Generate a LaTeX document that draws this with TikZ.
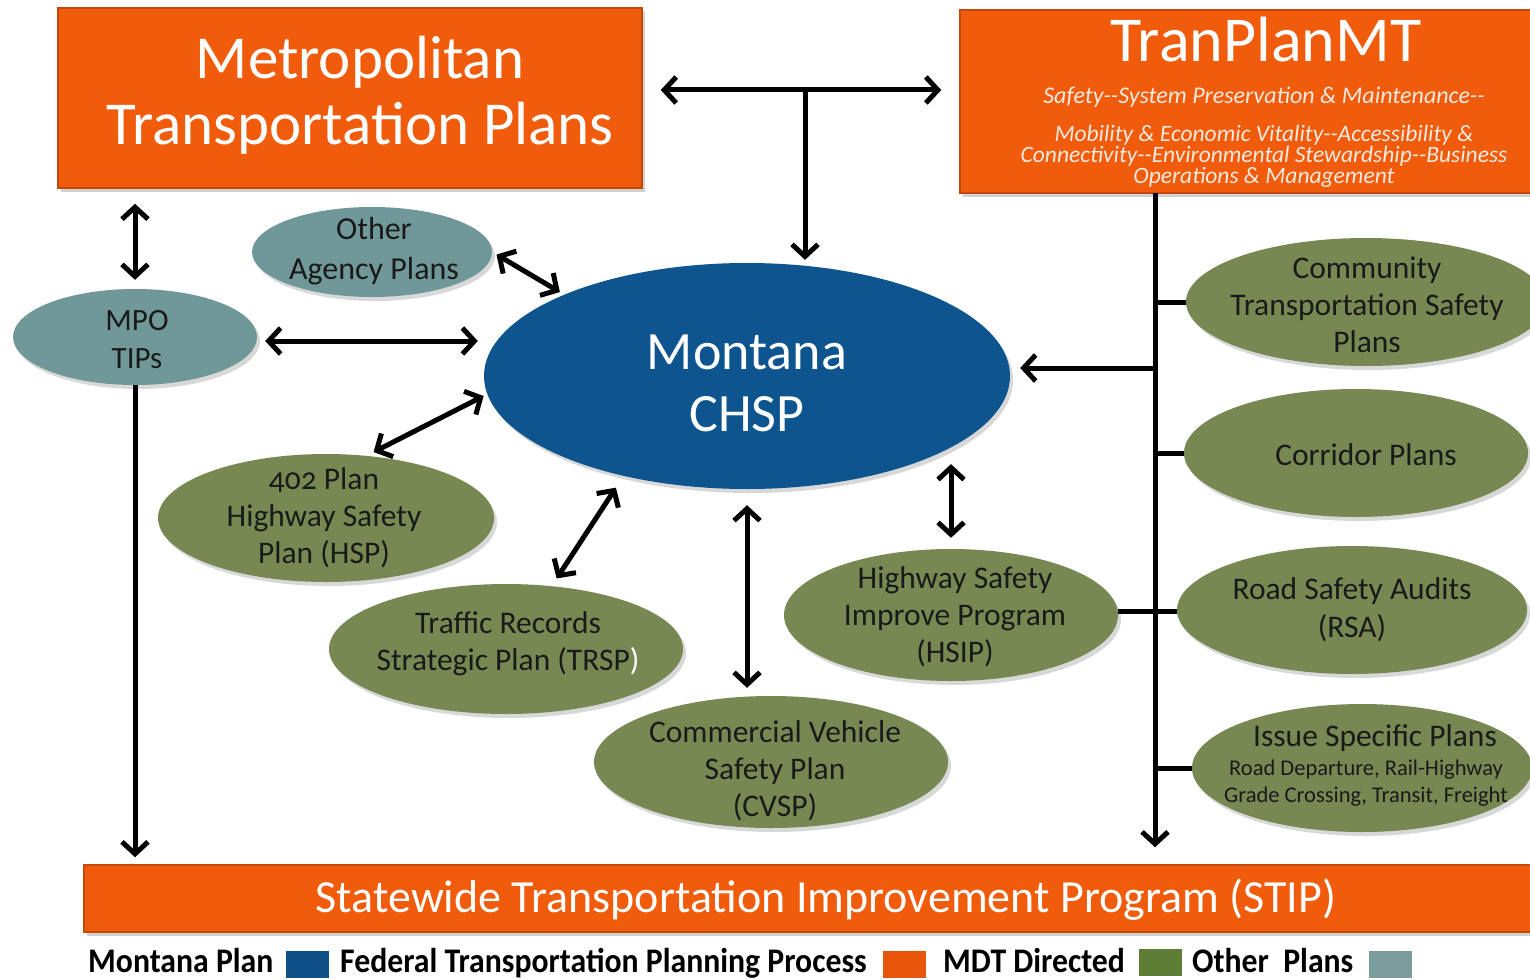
\documentclass[tikz,border=0pt]{standalone}
\usepackage{fontspec}
\setmainfont{Carlito}
\newfontfamily\legfont[FakeStretch=0.92]{Carlito}
\usetikzlibrary{shapes.geometric,arrows.meta,shadows,calc}
\definecolor{orng}{RGB}{240,92,12}
\definecolor{obord}{RGB}{196,72,10}
\definecolor{chblue}{RGB}{14,84,142}
\definecolor{grn}{RGB}{120,136,82}
\definecolor{teal}{RGB}{112,152,152}
\definecolor{etxt}{RGB}{26,26,26}
\definecolor{subw}{RGB}{252,234,222}
\definecolor{lgblue}{RGB}{14,80,136}
\definecolor{lgorng}{RGB}{232,86,12}
\definecolor{lggrn}{RGB}{94,126,54}
\definecolor{lgteal}{RGB}{122,156,156}
\tikzset{
  orangebox/.style={rectangle, draw=obord, line width=1.5pt, fill=orng, inner sep=0pt,
     drop shadow={opacity=0.35, shadow xshift=3pt, shadow yshift=-4pt}},
  ell/.style={ellipse, inner sep=0pt, draw=none,
     drop shadow={opacity=0.3, shadow xshift=3pt, shadow yshift=-4pt}},
  greenell/.style={ell, fill=grn},
  tealell/.style={ell, fill=teal},
  blueell/.style={ell, fill=chblue},
  etext/.style={align=center, text=etxt, font=\fontsize{31.5}{37}\selectfont},
  tip/.tip={Straight Barb[length=12pt, width=26pt]},
  dbl/.style={line width=5pt, tip-tip},
  arr/.style={line width=5pt, -tip},
  ln/.style={line width=5pt},
  legtext/.style={anchor=base west, inner sep=0pt, text=black, font=\legfont\bfseries\fontsize{34.5}{34.5}\selectfont},
  legsq/.style={rectangle, inner sep=0pt, minimum width=44pt, minimum height=28pt, draw=white, line width=1pt}
}
\begin{document}
\begin{tikzpicture}[x=1pt,y=-1pt]
\useasboundingbox[fill=white] (0,0) rectangle (1530,979);

% boxes
\node[orangebox, minimum width=584pt, minimum height=180pt] (mtp) at (350,98) {};
\node[text=white, align=center, font=\fontsize{61}{66}\selectfont] (mtpT) at (360,95) {Metropolitan\\Transportation Plans};

\node[orangebox, minimum width=585pt, minimum height=183pt] (tpm) at (1252.5,101.5) {};
\node[text=white, font=\fontsize{64}{64}\selectfont] (tpmT) at (1266,40) {TranPlanMT};
\node[text=subw, font=\itshape\fontsize{24}{24}\selectfont] (tpmS1) at (1264,97) {Safety-{}-System Preservation \& Maintenance-{}-};
\node[text=subw, align=center, font=\itshape\fontsize{23.5}{21}\selectfont] (tpmS2) at (1264,156) {Mobility \& Economic Vitality-{}-Accessibility \&\\Connectivity-{}-Environmental Stewardship-{}-Business\\Operations \& Management};

\node[orangebox, minimum width=1461pt, minimum height=67pt] (stip) at (814.5,898.5) {};
\node[text=white, font=\fontsize{46}{46}\selectfont] (stipT) at (826,900) {Statewide Transportation Improvement Program (STIP)};

% ellipses
\node[tealell, minimum width=240pt, minimum height=90pt] (oth) at (372,252) {};
\node[etext, font=\fontsize{32}{40}\selectfont] (othT) at (374,251) {Other\\Agency Plans};
\node[tealell, minimum width=244pt, minimum height=96pt] (mpo) at (135,337) {};
\node[etext, font=\fontsize{31}{38}\selectfont] (mpoT) at (137,340) {MPO\\TIPs};

\node[blueell, minimum width=526pt, minimum height=226pt] (chsp) at (747,376) {};
\node[text=white, align=center, font=\fontsize{54}{62}\selectfont] (chspT) at (747,383) {Montana\\CHSP};

\node[greenell, minimum width=336pt, minimum height=128pt] (hsp) at (326,518) {};
\node[etext] (hspT) at (324,518) {{\addfontfeatures{Numbers=OldStyle}402} Plan\\Highway Safety\\Plan (HSP)};
\node[greenell, minimum width=354pt, minimum height=130pt] (trsp) at (506,649) {};
\node[etext] (trspT) at (508,644) {Traffic Records\\Strategic Plan (TRSP\textcolor{white}{)}};
\node[greenell, minimum width=354pt, minimum height=132pt] (cvsp) at (771,762) {};
\node[etext] (cvspT) at (775,771) {Commercial Vehicle\\Safety Plan\\(CVSP)};
\node[greenell, minimum width=334pt, minimum height=132pt] (hsip) at (951,615) {};
\node[etext] (hsipT) at (955,617) {Highway Safety\\Improve Program\\(HSIP)};

\node[greenell, minimum width=360pt, minimum height=128pt] (cts) at (1366,302) {};
\node[etext] (ctsT) at (1367,305) {Community\\Transportation Safety\\Plans};
\node[greenell, minimum width=344pt, minimum height=128pt] (cor) at (1356,453) {};
\node[etext] (corT) at (1366,455) {Corridor Plans};
\node[greenell, minimum width=350pt, minimum height=128pt] (rsa) at (1352,610) {};
\node[etext, font=\fontsize{31.5}{38}\selectfont] (rsaT) at (1352,610) {Road Safety Audits\\(RSA)};
\node[greenell, minimum width=340pt, minimum height=128pt] (iss) at (1362,768) {};
\node[etext] (issT) at (1375,738) {Issue Specific Plans};
\node[etext, font=\fontsize{22.5}{27}\selectfont] (issS) at (1366,783) {Road Departure, Rail-Highway\\Grade Crossing, Transit, Freight};

% connectors
\coordinate (topmid) at (805,90);
\draw[dbl, shorten <=18pt, shorten >=18pt] (mtp.east |- topmid) -- (tpm.west |- topmid);
\draw[arr, shorten >=3pt] (topmid) -- (topmid |- chsp.north);
\draw[dbl, shorten <=15pt, shorten >=9pt] (mpo.north |- mtp.south) -- (mpo.north);
\draw[dbl, shorten <=8pt, shorten >=6pt] ([yshift=-4pt]mpo.east) -- ([yshift=-4pt]mpo.east -| chsp.west);
\draw[dbl, shorten <=5pt, shorten >=5pt] (oth.east) -- (chsp.156);
\draw[dbl, shorten <=8pt, shorten >=4pt] (hsp.57) -- (chsp.184);
\draw[dbl, shorten <=9pt, shorten >=14pt] (trsp.54) -- (chsp.219);
\draw[dbl, shorten <=16pt, shorten >=8pt] (chsp.south) -- (chsp.south |- cvsp.north);
\draw[dbl, shorten <=15pt, shorten >=11pt] (hsip.north |- chsp.340) -- (hsip.north);

\coordinate (trunk) at (1155,193);
\draw[arr, shorten >=17pt] (trunk) -- (trunk |- stip.north);
\draw[arr, shorten >=10pt] ([yshift=8pt]trunk |- chsp.east) -- ([yshift=8pt]chsp.east);
\draw[ln] (trunk |- cts.west) -- (cts.west);
\draw[ln] (trunk |- cor.west) -- (cor.west);
\draw[ln] ([yshift=4pt]hsip.east) -- ([yshift=4pt]hsip.east -| rsa.west);
\draw[ln] (trunk |- iss.west) -- (iss.west);
\draw[arr, shorten >=7pt] (mpo.south) -- (mpo.south |- stip.north);

% legend
\node[legtext] (lg1T) at (88,972) {Montana Plan};
\node[legsq, fill=lgblue] (lg1) at (307,964) {};
\node[legtext] (lg2T) at (340,972) {Federal Transportation Planning Process};
\node[legsq, fill=lgorng] (lg2) at (904,964) {};
\node[legtext] (lg3T) at (943,972) {MDT Directed};
\node[legsq, fill=lggrn] (lg3) at (1160,962) {};
\node[legtext] (lg4T) at (1192,972) {Other\ \ Plans};
\node[legsq, fill=lgteal] (lg4) at (1390,964) {};
\end{tikzpicture}
\end{document}
